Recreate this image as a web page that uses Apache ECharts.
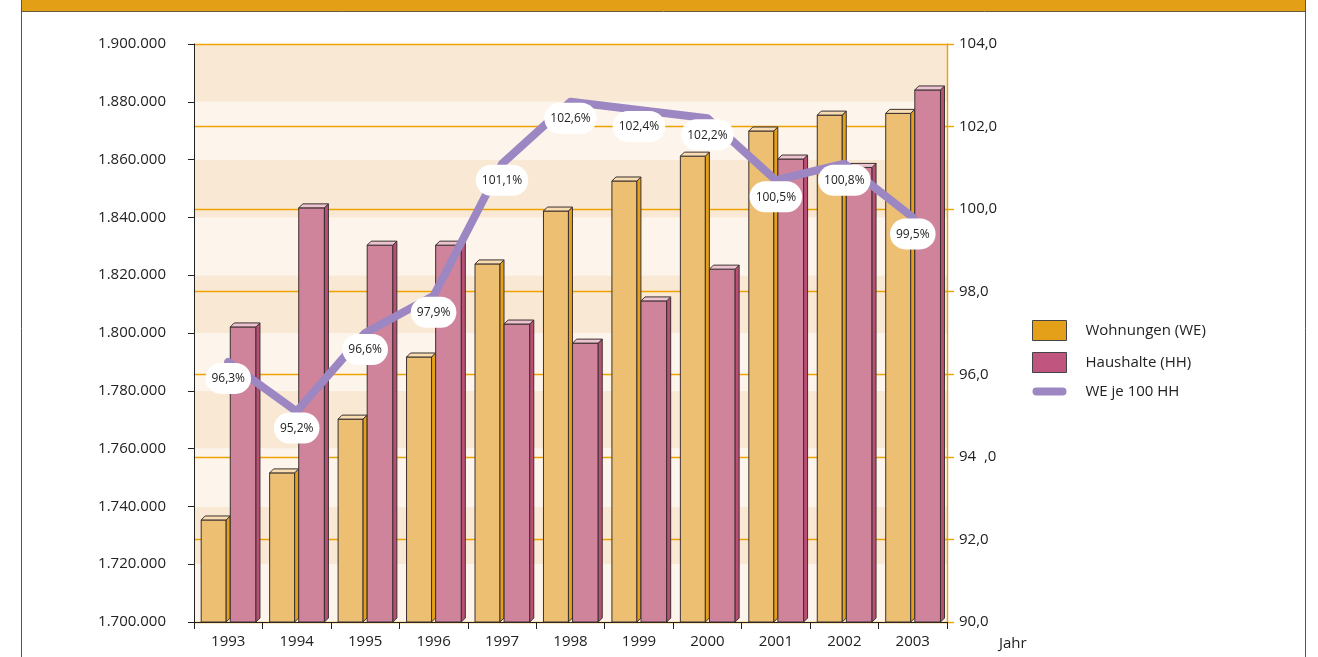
<!DOCTYPE html>
<html><head><meta charset="utf-8">
<script src="https://cdn.jsdelivr.net/npm/echarts@6/dist/echarts.min.js"></script>
<style>html,body{margin:0;padding:0;background:#fff}#c{width:1318px;height:657px}</style>
</head><body><div id="c"></div>
<script>
const years = ['1993','1994','1995','1996','1997','1998','1999','2000','2001','2002','2003'];
const wohnungen = [1735300,1751600,1770200,1791700,1823900,1842200,1852600,1861200,1869900,1875400,1876000];
const haushalte = [1802100,1843300,1830400,1830400,1803100,1796500,1811100,1822100,1860200,1857300,1884100];
const weJe100 = [96.3,95.1,97.0,97.9,101.1,102.6,102.4,102.2,100.7,101.1,99.8];
const weLabels = ['96,3%','95,2%','96,6%','97,9%','101,1%','102,6%','102,4%','102,2%','100,5%','100,8%','99,5%'];
const rightTicks = {90:'90,0',92:'92,0',94:'94  ,0',96:'96,0',98:'98,0',100:'100,0',102:'102,0',104:'104,0'};

const FONT = '"Open Sans", "DejaVu Sans", sans-serif';
const chart = echarts.init(document.getElementById('c'));

function barRender(offR, widR, front, side, topc) {
  return function (params, api) {
    const idx = api.value(0), val = api.value(1);
    const p = api.coord([idx, val]);
    const b = api.coord([idx, 1700000]);
    const bw = api.size([1, 0])[0];
    const x0 = p[0] + offR * bw, w = widR * bw, d = 4;
    const st = '#3a3030';
    return {
      type: 'group',
      children: [
        {type: 'rect', shape: {x: x0, y: p[1], width: w, height: b[1] - p[1]}, style: {fill: front, stroke: st, lineWidth: 1}},
        {type: 'polygon', shape: {points: [[x0 + w, p[1]], [x0 + w + d, p[1] - d], [x0 + w + d, b[1] - d], [x0 + w, b[1]]]}, style: {fill: side, stroke: st, lineWidth: 1}},
        {type: 'polygon', shape: {points: [[x0, p[1]], [x0 + d, p[1] - d], [x0 + w + d, p[1] - d], [x0 + w, p[1]]]}, style: {fill: topc, stroke: st, lineWidth: 1}}
      ]
    };
  };
}

chart.setOption({
  backgroundColor: '#ffffff',
  animation: false,
  textStyle: {fontFamily: FONT},
  grid: {left: 194, right: 371, top: 44, bottom: 35, containLabel: false},
  legend: {
    orient: 'vertical', left: 1027, top: 315, itemWidth: 34, itemHeight: 20, itemGap: 11,
    textStyle: {fontFamily: FONT, fontSize: 15, color: '#222', padding: [0, 0, 0, 14]},
    data: [
      {name: 'Wohnungen (WE)', icon: 'rect', itemStyle: {color: '#E3A018', borderColor: '#444', borderWidth: 1}},
      {name: 'Haushalte (HH)', icon: 'rect', itemStyle: {color: '#C0557F', borderColor: '#444', borderWidth: 1}},
      {name: 'WE je 100 HH', icon: 'path://M4,0 L30,0 A4,4 0 0 1 30,8 L4,8 A4,4 0 0 1 4,0 Z', itemStyle: {color: '#9C87C3', borderWidth: 0, opacity: 1}}
    ]
  },
  xAxis: {
    type: 'category', data: years, boundaryGap: true,
    name: 'Jahr', nameLocation: 'end', nameGap: 52,
    nameTextStyle: {fontFamily: FONT, fontSize: 15, color: '#222', verticalAlign: 'top', padding: [14, 0, 0, 0]},
    axisLine: {lineStyle: {color: '#222', width: 1}},
    axisTick: {show: true, length: 7, lineStyle: {color: '#222'}},
    axisLabel: {fontFamily: FONT, fontSize: 15, color: '#222', margin: 12}
  },
  yAxis: [
    {
      type: 'value', min: 1700000, max: 1900000, interval: 20000,
      axisLine: {show: true, lineStyle: {color: '#222'}},
      axisTick: {show: true, length: 6, lineStyle: {color: '#222'}},
      axisLabel: {fontFamily: FONT, fontSize: 15, color: '#222', margin: 28,
        formatter: v => String(v).replace(/\B(?=(\d{3})+(?!\d))/g, '.')},
      splitLine: {show: false},
      splitArea: {show: true, areaStyle: {color: ['#FDF5EB', '#F9E8D3']}}
    },
    {
      type: 'value', min: 90, max: 104, interval: 2, position: 'right',
      axisLine: {show: true, lineStyle: {color: '#EEA200', width: 1.4}},
      axisTick: {show: true, length: 7, lineStyle: {color: '#EEA200', width: 1.4}},
      axisLabel: {fontFamily: FONT, fontSize: 15, color: '#222', margin: 12,
        formatter: v => rightTicks[v] || ''},
      splitLine: {show: true, lineStyle: {color: '#EEA200', width: 1.4}}
    }
  ],
  series: [
    {
      name: 'Wohnungen (WE)', type: 'custom', yAxisIndex: 0,
      itemStyle: {color: '#E3A018'},
      encode: {x: 0, y: 1},
      renderItem: barRender(-0.395, 0.365, '#EDBF72', '#E3A018', '#F8DDB2'),
      data: wohnungen.map((v, i) => [i, v]), z: 3
    },
    {
      name: 'Haushalte (HH)', type: 'custom', yAxisIndex: 0,
      itemStyle: {color: '#C0557F'},
      encode: {x: 0, y: 1},
      renderItem: barRender(0.03, 0.375, '#D0849C', '#B94F75', '#EEC3D1'),
      data: haushalte.map((v, i) => [i, v]), z: 3
    },
    {
      name: 'WE je 100 HH', type: 'line', yAxisIndex: 1, z: 5,
      data: weJe100, symbol: 'circle', symbolSize: 2, showSymbol: true, smooth: false,
      lineStyle: {color: '#9C87C3', width: 8, cap: 'round', join: 'round'},
      itemStyle: {color: '#9C87C3'},
      label: {
        show: true, position: 'bottom', distance: 0, offset: [5, 7],
        formatter: p => weLabels[p.dataIndex],
        fontFamily: FONT, fontSize: 12, color: '#222',
        backgroundColor: '#ffffff', borderRadius: 20, padding: [10, 6, 9, 6]
      },
      labelLayout: {hideOverlap: false}
    }
  ],
  graphic: [
    {type: 'rect', left: 21, top: 0, shape: {width: 1285, height: 11}, style: {fill: '#E3A016'}, silent: true},
    {type: 'line', shape: {x1: 21, y1: 11.5, x2: 1306, y2: 11.5}, style: {stroke: '#6b5a3a', lineWidth: 1}},
    {type: 'line', shape: {x1: 21.5, y1: 0, x2: 21.5, y2: 657}, style: {stroke: '#555', lineWidth: 1}},
    {type: 'line', shape: {x1: 1305.5, y1: 0, x2: 1305.5, y2: 657}, style: {stroke: '#555', lineWidth: 1}}
  ]
});
</script></body></html>
